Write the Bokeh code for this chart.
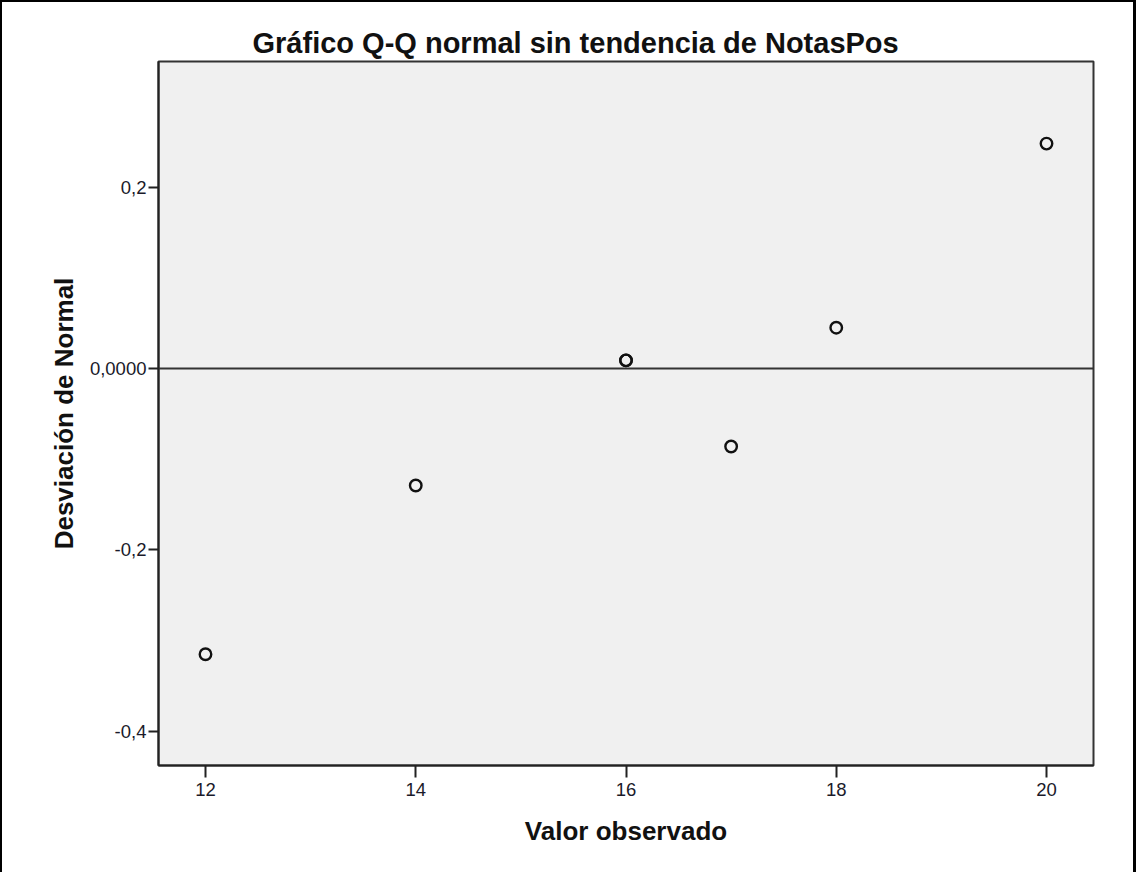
from bokeh.plotting import figure
from bokeh.models import Span, FixedTicker, Range1d
from bokeh.embed import file_html
from bokeh.resources import INLINE

# Data
observed = [12, 14, 16, 16, 17, 18, 20]
deviation = [-0.315, -0.129, 0.009, 0.009, -0.086, 0.045, 0.248]

x_ticks = [12, 14, 16, 18, 20]
y_ticks = [0.2, 0.0, -0.2, -0.4]
y_tick_labels = ["0,2", "0,0000", "-0,2", "-0,4"]

title_text = "Gráfico Q-Q normal sin tendencia de NotasPos"
x_label = "Valor observado"
y_label = "Desviación de Normal"

FONT = "Liberation Sans"

p = figure(width=1136, height=872, output_backend="svg", toolbar_location=None,
           x_range=Range1d(11.553, 20.447), y_range=Range1d(-0.4377, 0.3385),
           min_border_left=156, min_border_right=45, min_border_top=59,
           min_border_bottom=109)

p.styles = {"border-top": "2px solid black", "border-left": "2px solid black",
            "border-right": "3px solid black"}

p.title.text = title_text
p.title.text_font = FONT
p.title.text_font_size = "29px"
p.title.text_font_style = "bold"
p.title.text_color = "#111111"
p.title.align = "left"
p.title.offset = 94
p.title.standoff = 6

p.background_fill_color = "#f0f0f0"
p.border_fill_color = "white"
p.outline_line_color = "#333333"
p.outline_line_width = 2
p.xgrid.grid_line_color = None
p.ygrid.grid_line_color = None

for ax in (p.xaxis[0], p.yaxis[0]):
    ax.axis_line_color = "#222222"
    ax.axis_line_width = 2
    ax.major_tick_line_color = "#222222"
    ax.major_tick_line_width = 2
    ax.major_tick_in = 0
    ax.minor_tick_line_color = None
    ax.major_label_text_font = FONT
    ax.major_label_text_font_size = "18.5px"
    ax.major_label_text_color = "#1a1a2a"
    ax.axis_label_text_font = FONT
    ax.axis_label_text_font_size = "26px"
    ax.axis_label_text_font_style = "bold"
    ax.axis_label_text_color = "#111111"

p.xaxis.ticker = FixedTicker(ticks=x_ticks)
p.xaxis.major_tick_out = 12
p.xaxis.major_label_standoff = 5
p.xaxis.axis_label = x_label
p.xaxis.axis_label_standoff = 17

p.yaxis.ticker = FixedTicker(ticks=y_ticks)
p.yaxis.major_label_overrides = {t: l for t, l in zip(y_ticks, y_tick_labels)}
p.yaxis.major_tick_out = 10
p.yaxis.major_label_standoff = 2
p.yaxis.axis_label = y_label
p.yaxis.axis_label_standoff = 8

zero = Span(location=0, dimension="width", line_color="#333333", line_width=2)
p.add_layout(zero)

p.scatter(observed, deviation, size=11.5, marker="circle", fill_color=None,
          line_color="#111111", line_width=2.4)

open("out.html", "w").write(file_html(p, INLINE))
